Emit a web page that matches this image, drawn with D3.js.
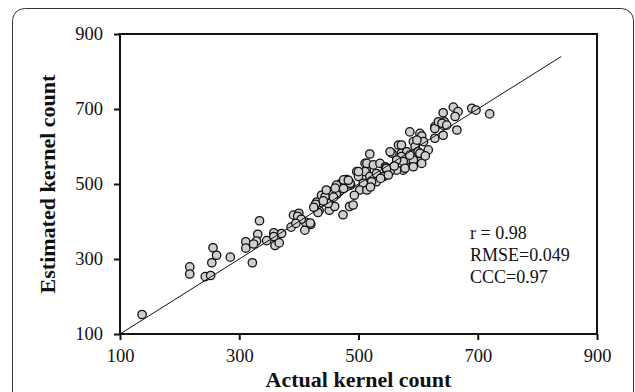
<!DOCTYPE html>
<html>
<head>
<meta charset="utf-8">
<script src="https://cdn.jsdelivr.net/npm/d3@7"></script>
<style>
  html, body { margin: 0; padding: 0; background: #fff; }
  svg { display: block; }
  text { font-family: "Liberation Serif", "Times New Roman", serif; fill: #111; }
</style>
</head>
<body>
<svg id="chart" width="635" height="392"></svg>
<script>
// actual vs estimated kernel count
var actual = [137,217,217,243,252,256,262,254,285,311,311,322,334,331,329,324,346,358,358,360,
  367,371,387,391,400,398,410,411,420,430,434,419,428,432,438,443,447,444,455,451,
  460,468,474,480,471,485,491,487,497,500,505,511,513,519,567,586,595,556,572,581,
  592,603,575,564,514,525,536,545,511,500,519,530,553,486,508,475,463,475,502,514,
  530,542,449,441,463,603,606,592,609,572,595,617,581,600,572,575,592,606,578,592,
  628,642,628,642,665,628,634,598,553,720,690,697,659,667,662,642,644,640,648,546,
  586,603,564,547,522,550,483,461,446,458,425,404,395,520,537,493,612,560];
var estimated = [152,279,260,253,256,330,310,290,305,346,329,290,402,366,348,340,349,370,360,336,
  343,368,385,417,422,414,377,398,392,452,429,396,446,424,470,453,479,466,480,430,
  440,480,418,512,502,440,444,497,533,520,488,555,537,580,604,639,608,582,582,564,
  555,560,537,537,555,551,555,546,533,533,520,528,533,502,502,511,497,488,484,484,
  506,520,448,455,472,635,628,613,613,604,600,591,586,586,573,560,564,555,542,546,
  653,657,622,630,644,648,666,617,586,687,702,697,705,693,680,690,666,662,657,542,
  577,582,564,542,506,524,510,489,484,465,438,406,395,492,515,470,575,548];
var xTicks = [100, 300, 500, 700, 900];
var yTicks = [100, 300, 500, 700, 900];
var stats = ["r = 0.98", "RMSE=0.049", "CCC=0.97"];

var svg = d3.select("#chart");

// outer rounded frame
svg.append("rect")
    .attr("x", 12.5).attr("y", 8.5)
    .attr("width", 621).attr("height", 420)
    .attr("rx", 12).attr("ry", 12)
    .attr("fill", "none").attr("stroke", "#333").attr("stroke-width", 1);

var x = d3.scaleLinear().domain([100, 900]).range([120, 597]);
var y = d3.scaleLinear().domain([100, 900]).range([334, 34]);

var g = svg.append("g");

g.append("g")
    .attr("transform", "translate(0,334)")
    .call(d3.axisBottom(x).tickValues(xTicks).tickSize(6).tickSizeOuter(0).tickPadding(9))
    .call(a => a.select(".domain").remove())
    .call(a => a.selectAll("line").attr("stroke", "#111").attr("stroke-width", 2))
    .call(a => a.selectAll("text").attr("font-size", 18.5).attr("font-family", "Liberation Serif").attr("fill", "#111"));

g.append("g")
    .attr("transform", "translate(120,0)")
    .call(d3.axisLeft(y).tickValues(yTicks).tickSize(6).tickSizeOuter(0).tickPadding(11))
    .call(a => a.select(".domain").remove())
    .call(a => a.selectAll("line").attr("stroke", "#111").attr("stroke-width", 2))
    .call(a => a.selectAll("text").attr("font-size", 18.5).attr("font-family", "Liberation Serif").attr("fill", "#111"));

// plot frame
g.append("rect")
    .attr("x", x(100)).attr("y", y(900))
    .attr("width", x(900) - x(100)).attr("height", y(100) - y(900))
    .attr("fill", "none").attr("stroke", "#111").attr("stroke-width", 2);

var pts = actual.map((a, i) => [a, estimated[i]]);

g.append("g").selectAll("circle")
  .data(pts)
  .enter().append("circle")
    .attr("cx", d => x(d[0]))
    .attr("cy", d => y(d[1]))
    .attr("r", 4.2)
    .attr("fill", "#cfcfcf")
    .attr("stroke", "#111")
    .attr("stroke-width", 1.3);

// 1:1 line
g.append("line")
    .attr("x1", x(100)).attr("y1", y(100))
    .attr("x2", x(840)).attr("y2", y(840))
    .attr("stroke", "#111").attr("stroke-width", 1);

g.append("g").selectAll("text")
  .data(stats)
  .enter().append("text")
    .attr("x", 470)
    .attr("y", (d, i) => 239 + i * 22)
    .attr("font-size", 18)
    .text(d => d);

svg.append("text")
    .attr("x", (x(100) + x(900)) / 2).attr("y", 387)
    .attr("text-anchor", "middle")
    .attr("font-size", 22).attr("font-weight", "bold")
    .text("Actual kernel count");

svg.append("text")
    .attr("transform", "translate(55," + ((y(100) + y(900)) / 2) + ") rotate(-90)")
    .attr("text-anchor", "middle")
    .attr("font-size", 22).attr("font-weight", "bold")
    .text("Estimated kernel count");
</script>
</body>
</html>
